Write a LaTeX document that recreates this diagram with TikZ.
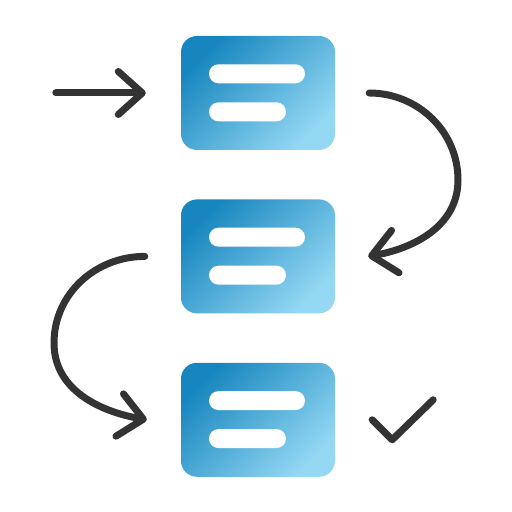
\documentclass[tikz,border=0pt]{standalone}
\usepackage{tikz}
\usetikzlibrary{positioning,arrows.meta}

\definecolor{stepdark}{HTML}{1786BE}
\definecolor{steplight}{HTML}{94D8F4}
\definecolor{ink}{HTML}{333333}

\begin{document}
\begin{tikzpicture}[x=1pt, y=1pt,
  card/.style={rounded corners=16pt, minimum width=154pt, minimum height=114pt,
    inner sep=0pt, top color=stepdark, bottom color=steplight, shading angle=45},
  textbar/.style={fill=white, rounded corners=9.5pt, minimum height=19pt,
    inner sep=0pt, anchor=west},
  inkline/.style={draw=ink, line width=7pt, line cap=round, line join=round},
  arr/.style={inkline, -{Straight Barb[length=24pt, width=43pt, round]}},
  node distance=49pt]
  \useasboundingbox (0,0) rectangle (512,512);

  \node[card] (b1) at (258,419) {};
  \node[card, below=of b1] (b2) {};
  \node[card, below=of b2] (b3) {};

  \foreach \b in {b1,b2,b3} {
    \node[textbar, minimum width=96pt] (\b top) at ([shift={(28,-38)}]\b.north west) {};
    \node[textbar, minimum width=77pt] (\b low) at ([shift={(28,-76)}]\b.north west) {};
  }

  \coordinate (go) at ([xshift=-125pt]b1.west);
  \draw[arr, shorten >=35pt] (go) -- (b1.west);

  \coordinate[right=34pt of b1.east] (c1s);
  \coordinate (c1m) at (458,332);
  \coordinate[right=33pt of b2.east] (c1e);
  \draw[arr] (c1s) to[out=0, in=90] (c1m) to[out=-90, in=10] (c1e);

  \coordinate[left=36pt of b2.west] (c2s);
  \coordinate (c2m) at (54,169);
  \coordinate[left=34pt of b3.west] (c2e);
  \draw[arr] (c2s) to[out=180, in=90] (c2m) to[out=-90, in=170] (c2e);

  \coordinate[right=37pt of b3.east] (tick);
  \draw[inkline] (tick) -- ++(20,-20) -- ++(41,40);
\end{tikzpicture}
\end{document}
